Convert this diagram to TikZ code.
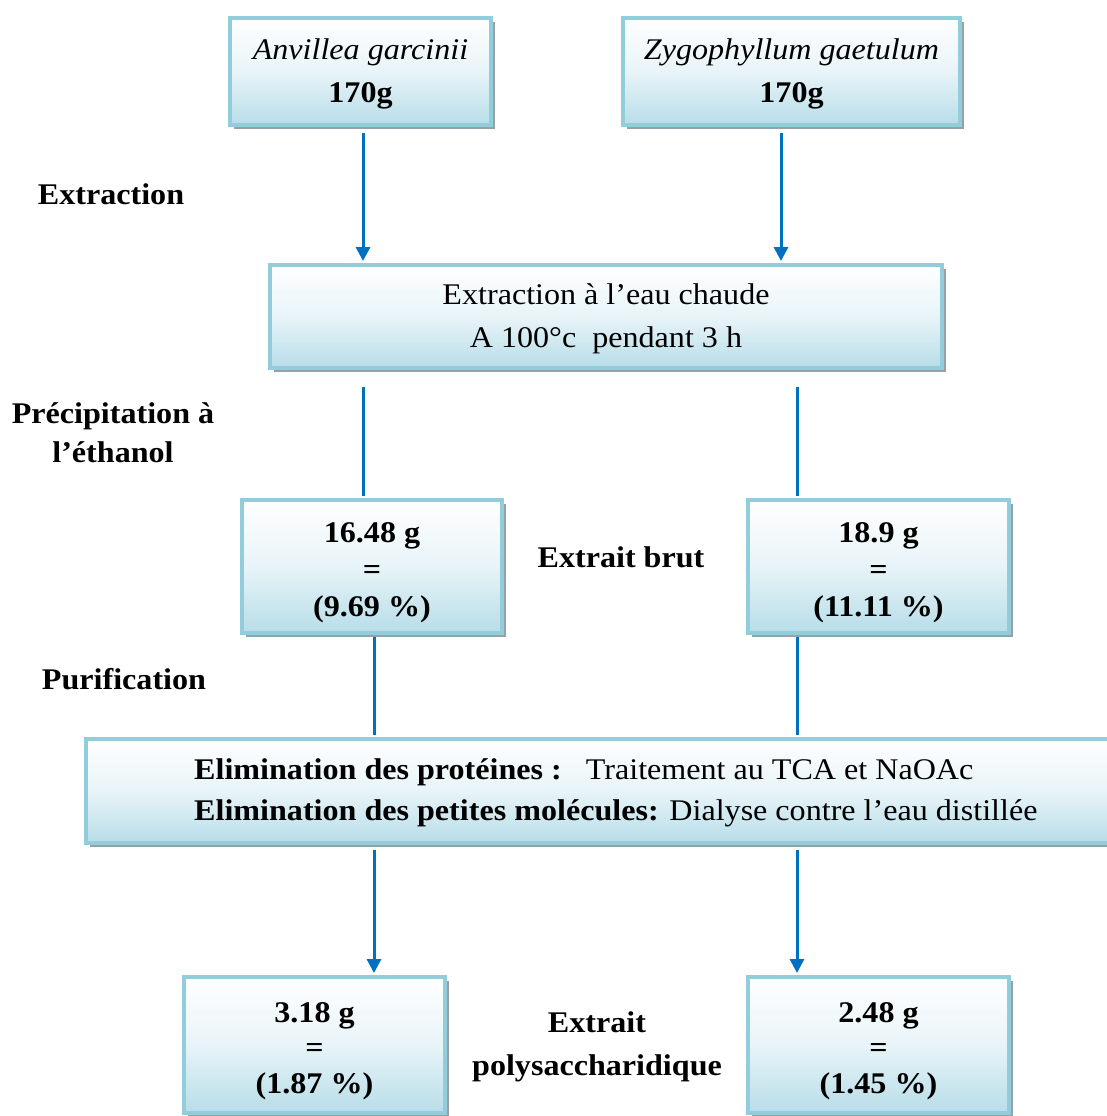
\documentclass[tikz,border=0pt]{standalone}
\usepackage{fontspec}
\setmainfont{Liberation Serif}[FakeStretch=1.07]
\usetikzlibrary{arrows.meta,shadows}
\definecolor{bord}{RGB}{146,205,220}
\definecolor{shadeb}{RGB}{183,221,232}
\definecolor{shadem}{RGB}{232,244,248}
\definecolor{arrblue}{RGB}{0,112,192}
\definecolor{shadowgray}{RGB}{150,160,166}
\begin{document}
\begin{tikzpicture}[x=1pt,y=-1pt,
  box/.style={draw=bord, line width=4pt, top color=white, bottom color=shadeb, middle color=shadem,
    inner sep=0pt,
    drop shadow={shadow xshift=4pt, shadow yshift=-4pt, fill=shadowgray, opacity=1}},
  txt/.style={align=center, inner sep=0pt, font=\fontsize{30}{43}\selectfont},
  numtxt/.style={align=center, inner sep=0pt, font=\fontsize{30}{37}\selectfont\bfseries},
  lbl/.style={align=center, inner sep=0pt, font=\fontsize{30}{39}\selectfont\bfseries},
  arr/.style={draw=arrblue, line width=3pt, -{Triangle[width=14pt,length=14pt]}},
  link/.style={draw=arrblue, line width=3pt}]
\useasboundingbox (0,0) rectangle (1107,1116);
\fill[white] (0,0) rectangle (1107,1116);

% boxes
\node[box, minimum width=261, minimum height=107] (a1) at (360.5,71.5) {};
\node[box, minimum width=337, minimum height=107] (z1) at (791.5,71.5) {};
\node[box, minimum width=672, minimum height=103] (ext) at (606,316.5) {};
\node[box, minimum width=260, minimum height=133] (a2) at (372,566.5) {};
\node[box, minimum width=261, minimum height=133] (z2) at (878.5,566.5) {};
\node[box, minimum width=1039, minimum height=104] (elim) at (605.5,791) {};
\node[box, minimum width=261, minimum height=136] (a3) at (314.5,1045) {};
\node[box, minimum width=261, minimum height=136] (z3) at (878.5,1045) {};

% box texts
\node[txt] (a1t) at (360.5,73.5) {\textit{Anvillea garcinii}\\\textbf{170g}};
\node[txt] (z1t) at (791.5,73.5) {\textit{Zygophyllum gaetulum}\\\textbf{170g}};
\node[txt] (extt) at (606,318.5) {Extraction à l’eau chaude\\A 100°c\ \ pendant 3 h};
\node[numtxt] (a2t) at (372,573) {16.48 g\\=\\(9.69 \%)};
\node[numtxt] (z2t) at (878.5,573) {18.9 g\\=\\(11.11 \%)};
\node[anchor=west, align=left, inner sep=0pt, font=\fontsize{30}{41}\selectfont] (elimt) at (194,793)
  {\textbf{Elimination des protéines :}\hspace{24pt}Traitement au TCA et NaOAc\\
   \textbf{Elimination des petites molécules:} Dialyse contre l’eau distillée};
\node[numtxt, font=\fontsize{30}{35.5}\selectfont\bfseries] (a3t) at (314.5,1051) {3.18 g\\=\\(1.87 \%)};
\node[numtxt, font=\fontsize{30}{35.5}\selectfont\bfseries] (z3t) at (878.5,1051) {2.48 g\\=\\(1.45 \%)};

% side labels
\node[lbl] (l1) at (111,194) {Extraction};
\node[lbl] (l2) at (113,433) {Précipitation à\\l’éthanol};
\node[lbl] (l3) at (621,557) {Extrait brut};
\node[lbl] (l4) at (124,679) {Purification};
\node[lbl, font=\fontsize{30}{43}\selectfont\bfseries] (l5) at (597,1047) {Extrait\\polysaccharidique};

% connectors
\draw[arr] ([xshift=2.5pt,yshift=-6pt]a1.south) -- ([xshift=-243pt,yshift=2pt]ext.north);
\draw[arr] ([xshift=-10.5pt,yshift=-6pt]z1.south) -- ([xshift=175pt,yshift=2pt]ext.north);
\draw[link] ([xshift=-243pt,yshift=-17pt]ext.south) -- ([xshift=-9pt,yshift=2pt]a2.north);
\draw[link] ([xshift=191pt,yshift=-17pt]ext.south) -- ([xshift=-81.5pt,yshift=2pt]z2.north);
\draw[link] ([xshift=2pt,yshift=-2pt]a2.south) -- ([xshift=-231.5pt,yshift=2pt]elim.north);
\draw[link] ([xshift=-81.5pt,yshift=-2pt]z2.south) -- ([xshift=191.5pt,yshift=2pt]elim.north);
\draw[arr] ([xshift=-231.5pt,yshift=-5pt]elim.south) -- ([xshift=59.5pt,yshift=2pt]a3.north);
\draw[arr] ([xshift=191.5pt,yshift=-5pt]elim.south) -- ([xshift=-81.5pt,yshift=2pt]z3.north);
\end{tikzpicture}
\end{document}
